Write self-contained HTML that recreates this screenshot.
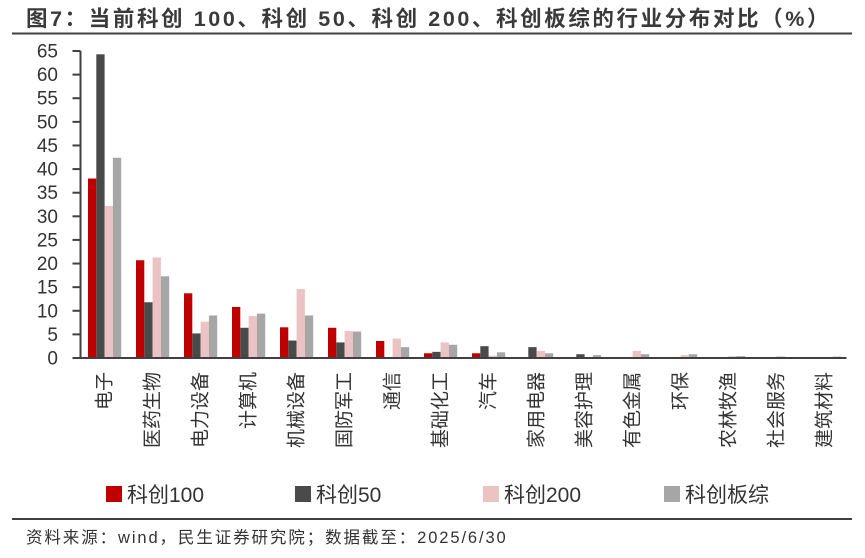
<!DOCTYPE html>
<html><head><meta charset="utf-8"><style>
body{margin:0;background:#fff;font-family:"Liberation Sans","Noto Sans CJK SC",sans-serif;}
svg text{font-family:"Liberation Sans","Noto Sans CJK SC",sans-serif;}
</style></head><body>
<svg id="chart" width="865" height="553" xmlns="http://www.w3.org/2000/svg">
<text x="26" y="26" font-size="21.5" font-weight="bold" letter-spacing="2.6" fill="#3a3a3a">图7：当前科创 100、科创 50、科创 200、科创板综的行业分布对比（%）</text>
<line x1="12" y1="33.5" x2="852" y2="33.5" stroke="#404040" stroke-width="2"/>
<g id="plot"></g>
<g id="legend"></g>
<line x1="12" y1="519" x2="852" y2="519" stroke="#404040" stroke-width="2"/>
<text x="26" y="543" font-size="16.5" letter-spacing="1.9" fill="#333">资料来源：wind，民生证券研究院；数据截至：2025/6/30</text>
</svg>
<script>
const categories=["电子","医药生物","电力设备","计算机","机械设备","国防军工","通信","基础化工","汽车","家用电器","美容护理","有色金属","环保","农林牧渔","社会服务","建筑材料"];
const seriesNames=["科创100","科创50","科创200","科创板综"];
const kc100=[38.0,20.7,13.7,10.8,6.5,6.4,3.6,1.0,1.0,0,0,0,0,0,0,0];
const kc50=[64.3,11.8,5.2,6.4,3.7,3.3,0,1.3,2.5,2.3,0.8,0,0,0,0,0];
const kc200=[32.2,21.3,7.7,8.9,14.6,5.7,4.1,3.3,0.5,1.5,0.1,1.5,0.6,0.4,0.4,0];
const kcComp=[42.4,17.3,9.0,9.4,9.0,5.6,2.3,2.8,1.2,1.0,0.6,0.8,0.8,0.4,0.2,0.3];
const yTicks=[0,5,10,15,20,25,30,35,40,45,50,55,60,65];
const colors=["#c00000","#4a4a4a","#ebc3c3","#a6a6a6"];
const NS="http://www.w3.org/2000/svg";
const x0=80.5,band=48,y0=358,yTop=51,yMax=65,bw=8.3;
const yScale=v=>y0-(v/yMax)*(y0-yTop);
const xBand=i=>x0+i*band;
const plot=document.getElementById('plot');
function mk(tag,attrs,parent){const e=document.createElementNS(NS,tag);for(const k in attrs)e.setAttribute(k,attrs[k]);parent.appendChild(e);return e;}
const series=[kc100,kc50,kc200,kcComp];
series.forEach((vals,s)=>{vals.forEach((v,i)=>{if(v<=0)return;
 const r=mk('rect',{x:xBand(i)+7.5+s*bw,y:yScale(v),width:bw,height:y0-yScale(v),fill:colors[s]},plot);
 
 });});
const ax=mk('line',{x1:x0,y1:yTop,x2:x0,y2:y0,stroke:'#404040','stroke-width':2},plot);


const xa=mk('line',{x1:x0-8,y1:y0,x2:xBand(categories.length)-2,y2:y0,stroke:'#404040','stroke-width':2},plot);


yTicks.forEach(t=>{const y=yScale(t);
 const tk=mk('line',{x1:x0-8,y1:y,x2:x0,y2:y,stroke:'#404040','stroke-width':2},plot);
 
 
 const tx=mk('text',{x:58,y:y+6.5,'text-anchor':'end','font-size':19,fill:'#333'},plot);
 
 
 tx.textContent=t;});
categories.forEach((c,i)=>{const cx=xBand(i)+band/2+6;
 const tx=mk('text',{x:0,y:0,'text-anchor':'end','font-size':19,fill:'#333',transform:`translate(${cx},372) rotate(-90)`},plot);
 
 
 tx.textContent=c;});
const lg=document.getElementById('legend');
const lx=[106,295,483,664];
seriesNames.forEach((n,s)=>{
 const r=mk('rect',{x:lx[s],y:486,width:16,height:16,fill:colors[s]},lg);
 
 
 const t=mk('text',{x:lx[s]+21,y:502,'font-size':21,fill:'#333'},lg);
 
 
 t.textContent=n;});
</script>
</body></html>
